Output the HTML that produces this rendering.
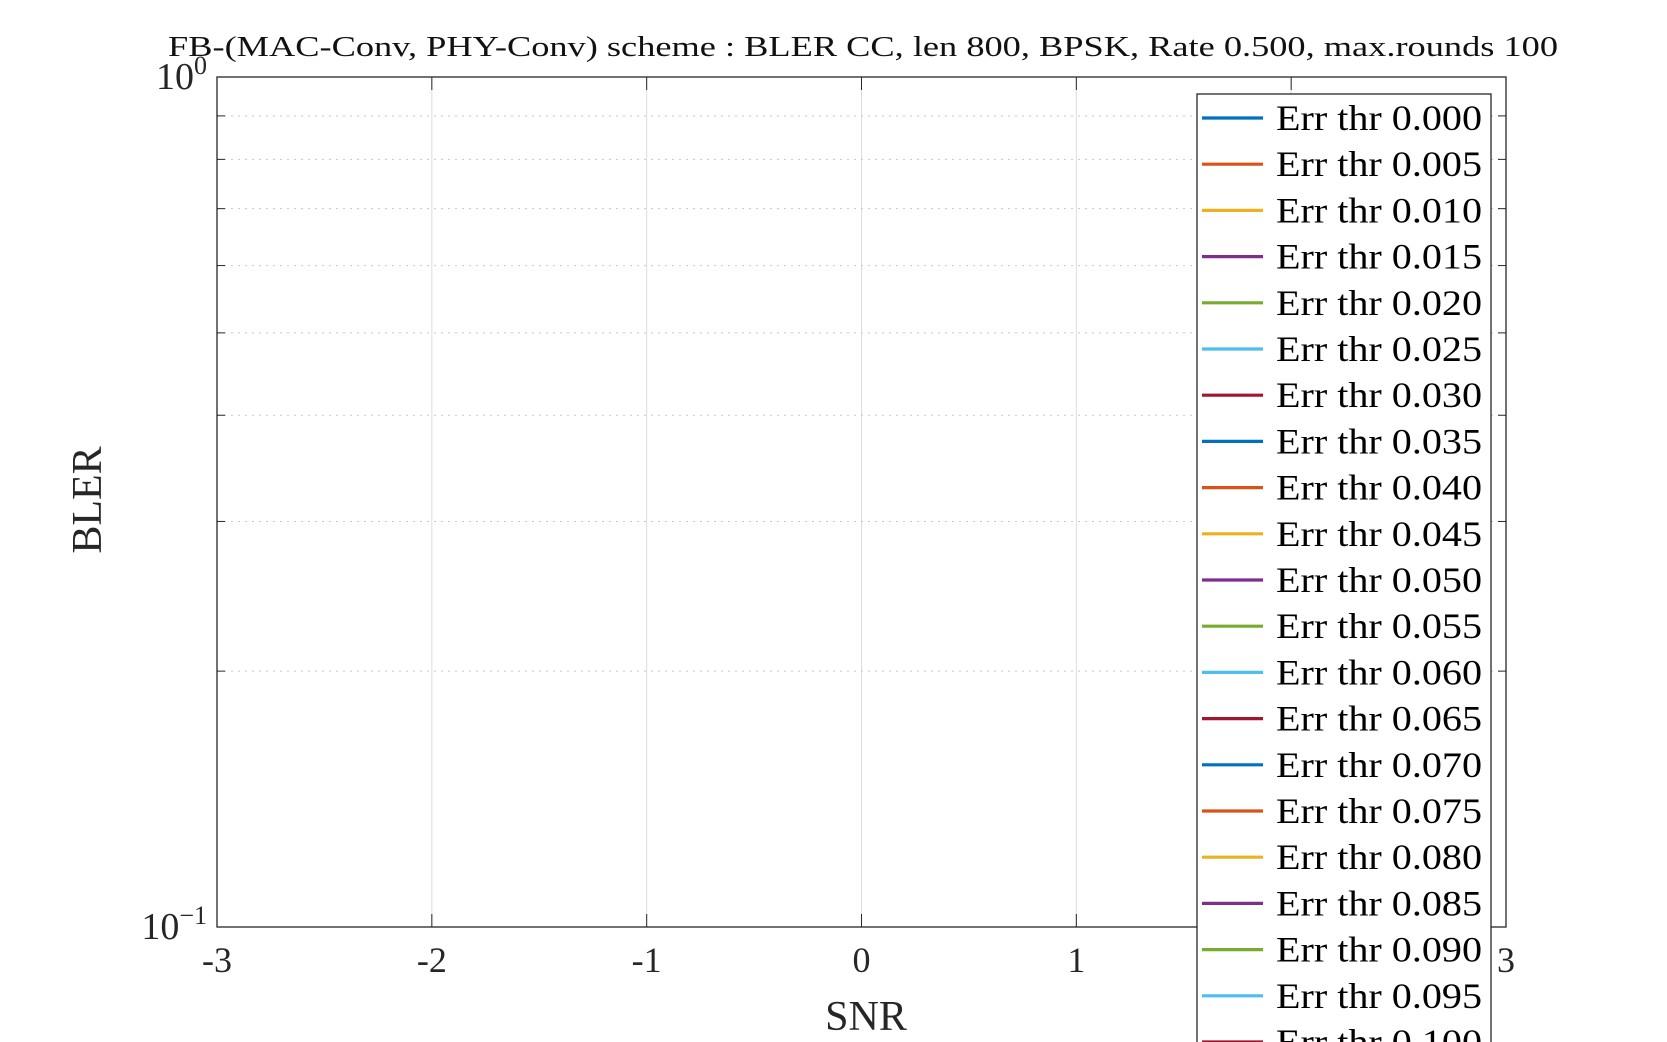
<!DOCTYPE html>
<html><head><meta charset="utf-8"><style>
html,body{margin:0;padding:0;background:#fff;}
svg{display:block;font-family:"Liberation Serif",serif;}
</style></head><body>
<svg id="chart" width="1667" height="1042" viewBox="0 0 1667 1042"></svg>
<script>
const xTicks=[-3,-2,-1,0,1,2,3];
const xTickLabels=["-3","-2","-1","0","1","2","3"];
const yDecades=[0.1,1];
const yMinor=[0.2,0.3,0.4,0.5,0.6,0.7,0.8,0.9];
const legendThresholds=["0.000","0.005","0.010","0.015","0.020","0.025","0.030","0.035","0.040","0.045","0.050","0.055","0.060","0.065","0.070","0.075","0.080","0.085","0.090","0.095","0.100"];
const seriesColors=["#0072BD","#D95319","#EDB120","#7E2F8E","#77AC30","#4DBEEE","#A2142F"];

const svg=document.getElementById('chart');
const NS="http://www.w3.org/2000/svg";
const L=217,R=1506,T=77,B=927;
const xS=v=>L+(v+3)/6*(R-L);
const yS=v=>B-(Math.log10(v)+1)*(B-T);
function mk(tag,attrs,parent){const e=document.createElementNS(NS,tag);for(const k in attrs)e.setAttribute(k,attrs[k]);(parent||svg).appendChild(e);return e;}

const grid=mk('g',{});


xTicks.forEach(v=>{
  const l=mk('line',{x1:xS(v),x2:xS(v),y1:T,y2:B,stroke:'#dcdcdc','stroke-width':1},grid);
  
  
});
yMinor.forEach(v=>{
  const l=mk('line',{x1:L,x2:R,y1:yS(v),y2:yS(v),stroke:'#c8c8c8','stroke-width':1,'stroke-dasharray':'2,5'},grid);
  
  
  const t1=mk('line',{x1:L,x2:L+8,y1:yS(v),y2:yS(v),stroke:'#262626','stroke-width':1},grid);
  
  
  const t2=mk('line',{x1:R-8,x2:R,y1:yS(v),y2:yS(v),stroke:'#262626','stroke-width':1},grid);
  
  
});
xTicks.forEach(v=>{
  const t=mk('line',{x1:xS(v),x2:xS(v),y1:B,y2:B-13,stroke:'#262626','stroke-width':1},grid);
  
  
  const t2=mk('line',{x1:xS(v),x2:xS(v),y1:T,y2:T+13,stroke:'#262626','stroke-width':1},grid);
  
  
});
const frame=mk('rect',{x:L,y:T,width:R-L,height:B-T,fill:'none',stroke:'#262626','stroke-width':1.3});



xTicks.forEach((v,i)=>{
  const t=mk('text',{x:xS(v),y:B+45,'font-size':36,fill:'#262626','text-anchor':'middle'});
  t.textContent=xTickLabels[i];
  
  
});
yDecades.forEach(v=>{
  const e=Math.round(Math.log10(v));
  const t=mk('text',{x:L-10,y:yS(v)+12,'font-size':38,fill:'#262626','text-anchor':'end'});
  
  
  const a=mk('tspan',{},t);a.textContent='10';
  const b=mk('tspan',{dy:-15,'font-size':26},t);b.textContent=e===0?'0':'\u22121';
});

const title=mk('text',{x:168,y:56,'font-size':29,fill:'#111',textLength:1390,lengthAdjust:'spacingAndGlyphs'});
title.textContent='FB-(MAC-Conv, PHY-Conv) scheme : BLER CC, len 800, BPSK, Rate 0.500, max.rounds 100';


const xl=mk('text',{x:866,y:1030,'font-size':42,fill:'#262626','text-anchor':'middle'});
xl.textContent='SNR';


const yl=mk('text',{x:0,y:0,'font-size':42,fill:'#262626','text-anchor':'middle',transform:'translate(101,500) rotate(-90)'});
yl.textContent='BLER';



const leg=mk('g',{});


const lb=mk('rect',{x:1197,y:94,width:294,height:1000,fill:'#fff',stroke:'#262626','stroke-width':1.3},leg);


legendThresholds.forEach((th,i)=>{
  const y=118+i*46.2;
  const g=mk('g',{},leg);
  
  
  const ln=mk('line',{x1:1202,x2:1263,y1:y,y2:y,stroke:seriesColors[i%seriesColors.length],'stroke-width':3.2},g);
  
  
  const t=mk('text',{x:1276,y:y+12,'font-size':36,fill:'#000',textLength:206,lengthAdjust:'spacingAndGlyphs'},g);
  t.textContent='Err thr '+th;
  
  
});
</script>
</body></html>
